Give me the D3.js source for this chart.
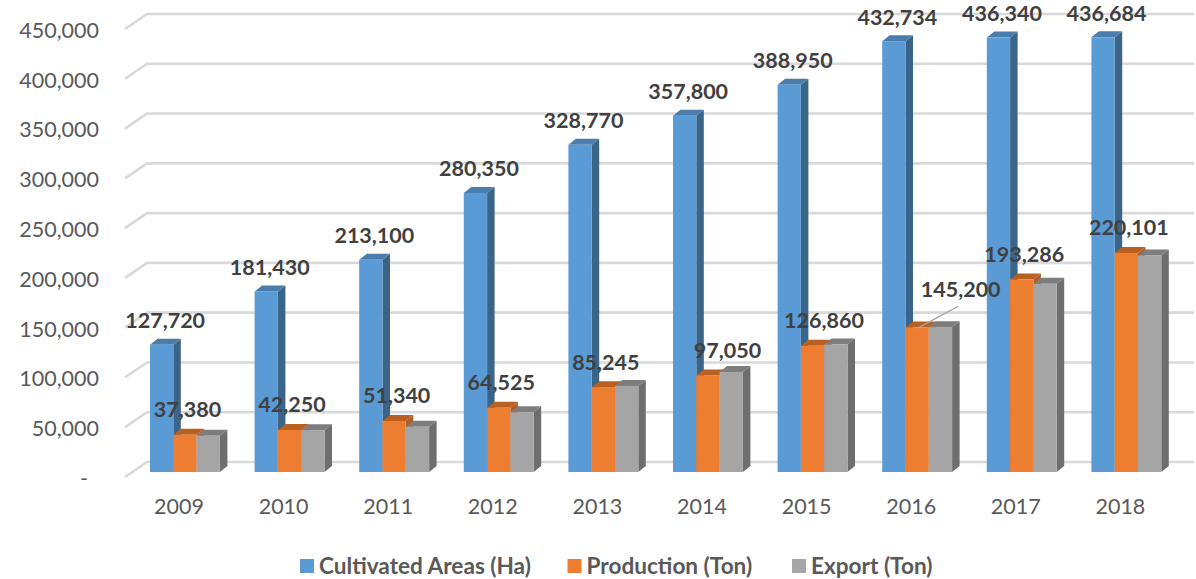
<!DOCTYPE html>
<html>
<head>
<meta charset="utf-8">
<script src="https://cdn.jsdelivr.net/npm/d3@7"></script>
<style>
  html, body { margin: 0; padding: 0; background: #fff; }
  svg { display: block; }
  text { font-family: Lato, "Open Sans", sans-serif; }
</style>
</head>
<body>
<div id="chart"></div>
<script>
var years = [2009, 2010, 2011, 2012, 2013, 2014, 2015, 2016, 2017, 2018];

var cultivated = [127720, 181430, 213100, 280350, 328770, 357800, 388950, 432734, 436340, 436684];
var production = [37380, 42250, 51340, 64525, 85245, 97050, 126860, 145200, 193286, 220101];
// no labels on this series in the picture
var exported = [36500, 42000, 45500, 60000, 86500, 100500, 128000, 145500, 189000, 217500];

var seriesNames = ["Cultivated Areas (Ha)", "Production (Ton)", "Export (Ton)"];
var seriesValues = [cultivated, production, exported];
var yTicks = [0, 50000, 100000, 150000, 200000, 250000, 300000, 350000, 400000, 450000];

var front = ["#5b9bd5", "#ed7d31", "#a5a5a5"];
var side = ["#3b6489", "#b15d24", "#6e6e6e"];
var top3d = ["#4a7dab", "#b85f22", "#7d7d7d"];

var width = 1196, height = 579;

var svg = d3.select("#chart").append("svg")
    .attr("width", width)
    .attr("height", height);

var x = d3.scaleBand()
    .domain(years)
    .range([126.7, 1172.7]);

var inner = d3.scaleBand()
    .domain([0, 1, 2])
    .range([23.3, 93.2]);

var y = d3.scaleLinear()
    .domain([0, 450000])
    .range([477, 29]);

// walls and bars sit further back than the axis line
var wallDx = 22, wallDy = -15;
var barDy = -5;
var depthX = 7.5, depthY = -6;

var fmt = d3.format(",");

// gridlines with the short slanted piece at the left wall
var grid = svg.append("g")
    .attr("fill", "none")
    .attr("stroke", "#d9d9d9")
    .attr("stroke-width", 2.6);

grid.selectAll("path")
    .data(yTicks)
    .enter()
    .append("path")
    .attr("d", function(d){
        var y0 = y(d);
        return "M125," + y0 + "L" + (125 + wallDx) + "," + (y0 + wallDy) + "H1194";
    });

// y axis labels
var yAxis = d3.axisLeft(y)
    .tickValues(yTicks)
    .tickSize(0)
    .tickPadding(0)
    .tickFormat(function(d){ return d === 0 ? "-" : fmt(d); });

var yG = svg.append("g")
    .attr("transform", "translate(99,1.5)")
    .call(yAxis);
yG.select(".domain").remove();
yG.selectAll("text")
    .style("font-family", "Lato, 'Open Sans', sans-serif")
    .style("font-size", "21.5px")
    .attr("fill", "#595959")
    .attr("x", function(d){ return d === 0 ? -11 : 0; });

// x axis labels
var xAxis = d3.axisBottom(x)
    .tickSize(0)
    .tickPadding(0);

var xG = svg.append("g")
    .attr("transform", "translate(0,499)")
    .call(xAxis);
xG.select(".domain").remove();
xG.selectAll("text")
    .style("font-family", "Lato, 'Open Sans', sans-serif")
    .style("font-size", "21.5px")
    .attr("fill", "#595959");

// bars
var barsG = svg.append("g");

years.forEach(function(year, i){
    seriesValues.forEach(function(values, s){
        var x0 = x(year) + inner(s),
            w = inner.bandwidth(),
            y0 = y(values[i]) + barDy,
            yBase = y(0) + barDy;

        barsG.append("polygon")
            .attr("fill", side[s])
            .attr("points", [
                [x0 + w, y0], [x0 + w + depthX, y0 + depthY],
                [x0 + w + depthX, yBase + depthY], [x0 + w, yBase]
            ].join(" "));

        barsG.append("polygon")
            .attr("fill", top3d[s])
            .attr("points", [
                [x0, y0], [x0 + depthX, y0 + depthY],
                [x0 + w + depthX, y0 + depthY], [x0 + w, y0]
            ].join(" "));

        barsG.append("rect")
            .attr("x", x0)
            .attr("y", y0)
            .attr("width", w)
            .attr("height", yBase - y0)
            .attr("fill", front[s]);
    });
});

// some production labels were dragged aside by hand
var productionNudge = {2014: [17, 0], 2015: [9, 0], 2016: [41, -13]};

var labels = svg.append("g")
    .attr("fill", "#404040")
    .attr("font-weight", "bold")
    .attr("font-size", "21.5px")
    .attr("text-anchor", "middle");

// leader line for the 2016 production label
var leaderX = x(2016) + inner(1) + inner.bandwidth() / 2;
svg.append("line")
    .attr("x1", leaderX)
    .attr("y1", y(145200) + barDy + 1)
    .attr("x2", leaderX + 41)
    .attr("y2", y(145200) + barDy - 21)
    .attr("stroke", "#a6a6a6")
    .attr("stroke-width", 1.3);

years.forEach(function(year, i){
    labels.append("text")
        .attr("x", x(year) + inner(0) + inner.bandwidth() / 2 + 3.5)
        .attr("y", y(cultivated[i]) + barDy - 24)
        .attr("dy", "0.35em")
        .text(fmt(cultivated[i]));

    var nudge = productionNudge[year] || [0, 0];
    labels.append("text")
        .attr("x", x(year) + inner(1) + inner.bandwidth() / 2 + 2.5 + nudge[0])
        .attr("y", y(production[i]) + barDy - 25 + nudge[1])
        .attr("dy", "0.35em")
        .text(fmt(production[i]));
});

// legend
var legendX = [300, 567.5, 792];
var legend = svg.append("g");

seriesNames.forEach(function(name, s){
    legend.append("rect")
        .attr("x", legendX[s])
        .attr("y", 559)
        .attr("width", 14)
        .attr("height", 14)
        .attr("fill", front[s]);

    legend.append("text")
        .attr("x", legendX[s] + 19)
        .attr("y", 566)
        .attr("dy", "0.35em")
        .attr("font-size", "22.6px")
        .attr("font-weight", "bold")
        .attr("fill", "#595959")
        .text(name);
});
</script>
</body>
</html>
